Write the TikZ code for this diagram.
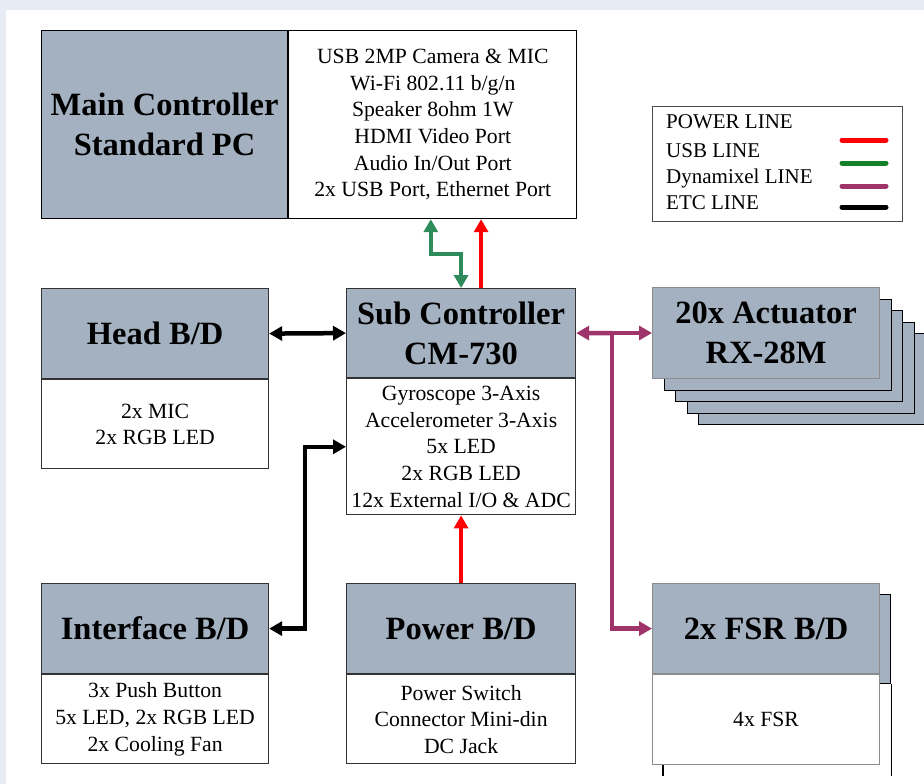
\documentclass[tikz,border=0pt]{standalone}
\usepackage{fontspec}
\setmainfont{Liberation Serif}
\usetikzlibrary{arrows.meta,positioning}
\definecolor{boxgray}{RGB}{163,177,193}
\definecolor{bgblue}{RGB}{231,236,244}
\definecolor{usbgreen}{RGB}{46,140,90}
\definecolor{lggreen}{RGB}{20,128,40}
\definecolor{dxlpurple}{RGB}{158,52,105}
\begin{document}
\begin{tikzpicture}[x=1pt, y=-1pt, >={Triangle[length=13pt,width=14pt]},
  titlebox/.style={draw=black!80, line width=1.2pt, fill=boxgray, inner sep=0pt, align=center,
    font=\fontsize{32.5}{40}\selectfont\bfseries},
  infobox/.style={draw=black!80, line width=1.2pt, fill=white, inner sep=0pt, align=center,
    font=\fontsize{21.7}{26.6}\selectfont},
  lgtext/.style={anchor=west, inner sep=0pt, font=\fontsize{21}{26}\selectfont},
  wire/.style={line width=4.5pt},
  lgline/.style={line width=5pt, line cap=round}]
  \useasboundingbox (0,0) rectangle (924,784);
  \fill[bgblue] (0,0) rectangle (924,784);
  \fill[white] (6,10) rectangle (924,784);

  % main controller
  \node[titlebox, draw=black, minimum width=246pt, minimum height=188pt, anchor=north west] (maintitle) at (41,30) {Main Controller\\Standard PC};
  \node[infobox, draw=black, minimum width=288pt, minimum height=188pt, right=0pt of maintitle] (maininfo)
    {USB 2MP Camera \& MIC\\Wi-Fi 802.11 b/g/n\\Speaker 8ohm 1W\\HDMI Video Port\\Audio In/Out Port\\2x USB Port, Ethernet Port};

  % legend
  \node[draw=black!70, line width=1pt, minimum width=250pt, minimum height=115pt, inner sep=0pt, anchor=north west] (legend) at (652,106) {};
  \node[lgtext] (lgpower) at (666,122) {POWER LINE};
  \node[lgtext] (lgusb) at (666,151) {USB LINE};
  \node[lgtext] (lgdxl) at (666,178) {Dynamixel LINE};
  \node[lgtext] (lgetc) at (666,203) {ETC LINE};
  \draw[lgline, red] (842,140) -- (886,140);
  \draw[lgline, lggreen] (842,163) -- (886,163);
  \draw[lgline, dxlpurple] (842,186) -- (886,186);
  \draw[lgline, black] (842,207) -- (886,207);

  % head, sub controller
  \node[titlebox, minimum width=227pt, minimum height=90pt, anchor=north west] (headtitle) at (41,288) {Head B/D};
  \node[infobox, minimum width=227pt, minimum height=89pt, below=0pt of headtitle] (headinfo) {2x MIC\\2x RGB LED};
  \node[titlebox, minimum width=229pt, minimum height=89pt, anchor=north west] (subtitle) at (346,288) {Sub Controller\\CM-730};
  \node[infobox, minimum width=229pt, minimum height=136pt, below=0pt of subtitle] (subinfo)
    {Gyroscope 3-Axis\\Accelerometer 3-Axis\\5x LED\\2x RGB LED\\12x External I/O \& ADC};

  % actuator stack
  \foreach \i in {4,3,2,1}
    \node[titlebox, draw=black, minimum width=227pt, minimum height=91pt, anchor=north west] (actback\i) at ({652+11.5*\i},{287+11.5*\i}) {};
  \node[titlebox, draw=black!45, minimum width=227pt, minimum height=91pt, anchor=north west] (act) at (652,287) {20x Actuator\\RX-28M};

  % bottom row
  \node[titlebox, minimum width=227pt, minimum height=90pt, anchor=north west] (intftitle) at (41,583) {Interface B/D};
  \node[infobox, minimum width=227pt, minimum height=89pt, below=0pt of intftitle] (intfinfo)
    {3x Push Button\\5x LED, 2x RGB LED\\2x Cooling Fan};
  \node[titlebox, minimum width=229pt, minimum height=90pt, anchor=north west] (powtitle) at (346,583) {Power B/D};
  \node[infobox, minimum width=229pt, minimum height=89pt, below=0pt of powtitle] (powinfo)
    {Power Switch\\Connector Mini-din\\DC Jack};
  \node[titlebox, draw=black, minimum width=227pt, minimum height=89pt, anchor=north west] (fsrback) at (663,594) {};
  \draw[black, line width=1.2pt] (fsrback.south west) -- ++(0,92) (fsrback.south east) -- ++(0,92);
  \node[titlebox, draw=black!45, minimum width=227pt, minimum height=90pt, anchor=north west] (fsrtitle) at (652,583) {2x FSR B/D};
  \node[infobox, draw=black!45, minimum width=227pt, minimum height=90pt, below=0pt of fsrtitle] (fsrinfo) {4x FSR};

  % connectors
  \draw[wire, usbgreen, <->] ([xshift=-2pt]maininfo.south) -- ++(0,35) -| (subtitle.north);
  \draw[wire, red, ->] ([xshift=20pt]subtitle.north) -- ([xshift=20pt]subtitle.north |- maininfo.south);
  \draw[wire, <->] (headtitle.east) -- (subtitle.west);
  \draw[wire, <->] (subinfo.west) -- ++(-41,0) |- (intftitle.east);
  \draw[wire, red, ->] (powtitle.north) -- (subinfo.south);
  \coordinate (dxl) at (612,333);
  \draw[wire, dxlpurple, ->] (dxl) -- (subtitle.east);
  \draw[wire, dxlpurple, ->] (dxl) -- (dxl -| act.west);
  \draw[wire, dxlpurple, ->] (dxl) |- (fsrtitle.west);
\end{tikzpicture}
\end{document}
